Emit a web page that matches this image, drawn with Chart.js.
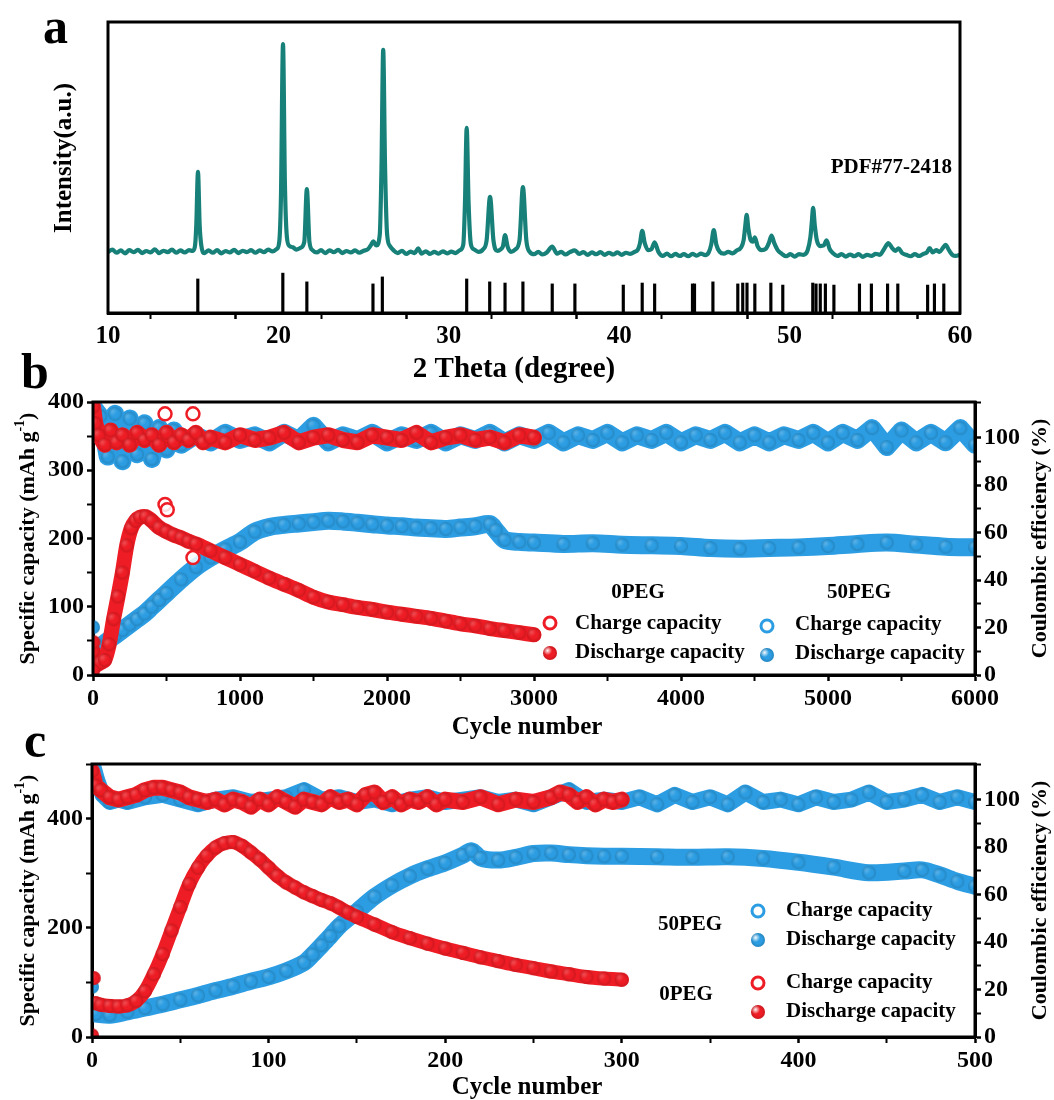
<!DOCTYPE html>
<html>
<head>
<meta charset="utf-8">
<script src="https://cdn.jsdelivr.net/npm/chart.js@4.4.1/dist/chart.umd.min.js"></script>
<style>
  body { margin: 0; background: #fff; }
  #wrap { position: relative; width: 1054px; height: 1100px; overflow: hidden; }
  #wrap canvas { position: absolute; left: 0; }
</style>
</head>
<body>
<div id="wrap">
  <canvas id="xrdChart" width="1054" height="390" style="top:0"></canvas>
  <canvas id="longCycleChart" width="1054" height="400" style="top:340px"></canvas>
  <canvas id="shortCycleChart" width="1054" height="400" style="top:700px"></canvas>
</div>
<script>
// ---------- (a) XRD pattern: [2theta, intensity a.u.] ----------
const xrdPattern = [
  [10.0,21.0],[10.25,21.8],[10.5,20.7],[10.75,21.5],[11.0,20.5],[11.25,21.6],[11.5,20.9],[11.75,21.7],[12.0,20.6],[12.25,21.3],
  [12.5,20.8],[12.75,21.9],[13.0,20.6],[13.25,21.4],[13.5,20.9],[13.75,21.8],[14.0,20.7],[14.25,21.5],[14.5,20.8],[14.75,21.6],[14.95,21.3],
  [15.1,22.8],[15.18,30],[15.28,48.5],[15.38,30],[15.48,23],
  [15.65,20.6],[15.9,21.5],[16.15,20.7],[16.4,21.6],[16.65,20.5],[16.9,21.3],[17.15,20.8],[17.4,21.7],[17.65,20.6],[17.9,21.4],
  [18.15,20.9],[18.4,21.6],[18.65,20.7],[18.9,21.5],[19.15,20.9],[19.4,21.8],[19.65,21.2],[19.9,22.0],
  [20.05,24.5],[20.15,40],[20.27,92.4],[20.38,45],[20.5,26],[20.65,23],[20.85,22.6],[21.05,21.8],[21.3,22.4],
  [21.52,24.5],[21.67,42.6],[21.82,24.5],[22.0,21.6],
  [22.25,20.8],[22.5,21.6],[22.75,20.6],[23.0,21.5],[23.25,20.9],[23.5,21.7],[23.75,20.6],[24.0,21.3],[24.25,20.8],[24.5,21.5],
  [24.75,20.7],[25.0,21.4],[25.25,21.9],
  [25.45,23.5],[25.57,24.6],[25.75,23.2],[25.95,27],[26.05,50],[26.15,90.4],[26.26,50],[26.38,27],[26.55,23],[26.75,21.6],
  [27.0,20.6],[27.25,21.4],[27.5,20.3],[27.75,21.1],[28.0,20.6],[28.2,22.2],[28.4,20.4],[28.65,21.2],[28.9,20.3],[29.15,21.0],
  [29.4,20.4],[29.65,21.2],[29.9,20.5],[30.15,21.1],[30.4,20.6],[30.65,21.6],
  [30.85,23.5],[30.95,38],[31.05,63.6],[31.16,38],[31.3,23.5],[31.5,21.8],[31.75,21.0],[32.0,21.8],
  [32.22,25],[32.42,39.9],[32.62,25],[32.85,21.3],[33.05,21.9],
  [33.18,23],[33.3,26.8],[33.45,22.8],[33.65,21.0],[33.9,21.8],
  [34.15,25],[34.35,43.3],[34.55,25],[34.75,21.0],
  [35.0,20.2],[35.25,21.0],[35.5,20.1],[35.75,20.8],[36.07,22.8],[36.35,20.4],[36.6,21.0],[36.85,20.1],[37.1,20.9],[37.4,21.5],
  [37.65,20.3],[37.9,20.9],[38.15,20.0],[38.4,20.8],[38.65,20.2],[38.9,20.9],[39.15,20.0],[39.4,20.7],[39.65,20.1],[39.9,20.8],
  [40.15,20.0],[40.4,20.7],[40.65,20.3],[40.9,21.0],[41.1,21.8],
  [41.22,24],[41.35,28.2],[41.5,24],[41.7,21.6],[41.9,22.0],[42.08,24.3],[42.3,21.0],
  [42.55,19.6],[42.8,20.4],[43.05,19.5],[43.3,20.3],[43.55,19.6],[43.8,20.2],[44.05,19.5],[44.3,20.3],[44.55,19.7],[44.8,20.4],
  [45.05,19.9],[45.25,20.8],
  [45.4,23.5],[45.55,28.5],[45.7,23.5],[45.9,21.0],[46.15,20.4],[46.4,21.0],[46.65,20.5],[46.9,21.5],[47.15,22.5],[47.3,25],
  [47.4,30],[47.48,33.7],[47.58,29],[47.72,25],[47.85,24.5],[47.96,26],[48.12,23],[48.35,21.6],[48.6,22.0],[48.78,24],
  [48.94,26.6],[49.1,24],[49.3,21.6],[49.55,20.3],[49.8,19.5],[50.05,20.2],[50.3,19.4],[50.55,20.2],[50.8,20.0],[51.05,21.4],
  [51.22,26],[51.3,31],[51.38,36.1],[51.48,30],[51.6,25],[51.8,23],[52.0,23.2],[52.17,25],[52.35,22],[52.55,20.5],
  [52.8,19.6],[53.05,20.2],[53.3,19.4],[53.55,20.1],[53.8,19.5],[54.05,20.2],[54.3,19.3],[54.55,20.0],[54.8,19.6],[55.05,20.3],
  [55.3,20.0],[55.55,22.0],[55.8,24.0],[56.0,22.5],[56.2,21.3],[56.4,22.2],[56.6,20.6],[56.85,20.0],[57.1,19.5],[57.35,20.2],
  [57.6,19.6],[57.85,20.3],[58.05,20.8],[58.22,22.3],[58.4,20.8],[58.6,21.6],[58.8,21.0],[59.0,22.4],[59.15,23.4],[59.35,21.6],
  [59.55,20.0],[59.75,19.6],[60.0,20.0]
];

// PDF#77-2418 reference lines: [2theta, relative height]
const pdfLines = [
  [15.27,11.7],[20.26,13.7],[21.67,10.7],[25.55,10],[26.1,12.4],[31.05,11.7],[32.4,10.7],[33.3,10.3],[34.35,10.7],
  [36.07,10],[37.4,10],[40.24,9.6],[41.35,10.3],[42.08,10],[44.3,10],[44.42,10],[45.5,10.7],[46.96,10],[47.25,10.3],
  [47.5,10.3],[47.96,10],[48.9,10.3],[49.6,9.6],[51.36,10.3],[51.55,10],[51.8,10],[52.1,10],[52.6,9.6],[54.1,10],
  [54.8,10],[55.75,10],[56.35,10],[58.1,9.6],[58.5,10],[59.05,10]
];

// ---------- (b) long cycling: [cycle, value] ----------
const capB0 = [
  [0,35],[20,15],[50,18],[80,22],[110,45],[140,82],[170,115],[200,150],[230,190],[260,215],[290,226],[320,231],[360,232],
  [400,226],[450,216],[500,210],[550,205],[600,201],[650,196],[700,192],[800,182],[900,172],[1000,162],[1100,152],
  [1200,142],[1300,133],[1400,124],[1500,114],[1600,107],[1700,103],[1800,99],[1900,96],[2000,92],[2100,89],[2200,86],
  [2300,83],[2400,79],[2500,75],[2600,72],[2700,68],[2800,65],[2900,62],[3000,59]
];
const capB50 = [
  [10,40],[50,42],[100,50],[150,58],[200,66],[250,74],[300,82],[350,90],[400,100],[450,110],[500,120],[600,140],[700,158],
  [800,172],[900,184],[1000,195],[1100,210],[1200,217],[1300,220],[1400,222],[1500,224],[1600,226],[1700,225],[1800,223],
  [1900,221],[2000,219],[2100,218],[2200,216],[2300,215],[2400,214],[2500,216],[2600,218],[2700,221],[2740,212],[2800,198],
  [2900,195],[3000,194],[3200,192],[3400,193],[3600,191],[3800,190],[4000,189],[4200,186],[4400,185],[4600,186],[4800,187],
  [5000,189],[5200,192],[5400,194],[5600,191],[5800,188],[6000,187]
];
const ceB0 = [
  [0,113],[15,106],[40,101],[80,97],[120,103],[160,98],[200,101],[250,97],[300,102],[350,99],[400,101],[450,97],[500,102],
  [550,98],[600,101],[650,99],[700,102],[750,98],[800,100],[900,98],[1000,101],[1100,99],[1200,100],[1300,102],[1400,98],
  [1500,100],[1600,101],[1700,99],[1800,98],[1900,101],[2000,100],[2100,99],[2200,102],[2300,98],[2400,100],[2500,101],
  [2600,99],[2700,100],[2800,98],[2900,101],[3000,100]
];
const ceB50 = [
  [0,113],[50,109],[100,92],[150,110],[200,90],[250,108],[300,93],[350,106],[400,91],[450,104],[500,95],[550,103],[600,97],
  [700,101],[800,98],[900,102],[1000,99],[1100,101],[1200,98],[1300,102],[1400,99],[1500,105],[1600,98],[1700,101],[1800,99],
  [1900,102],[2000,98],[2100,101],[2200,99],[2300,102],[2400,98],[2500,101],[2600,99],[2700,102],[2800,98],[2900,101],
  [3000,99],[3100,102],[3200,98],[3300,101],[3400,99],[3500,102],[3600,98],[3700,101],[3800,99],[3900,102],[4000,98],
  [4100,101],[4200,99],[4300,102],[4400,98],[4500,101],[4600,98],[4700,101],[4800,99],[4900,102],[5000,98],[5100,102],
  [5200,99],[5300,104],[5400,96],[5500,103],[5600,98],[5700,102],[5800,98],[5900,104],[6000,97]
];
const firstB0 = [[0,6],[3,48]];
const firstB50 = [[0,70]];
const chargeB0 = [[490,250],[505,242],[680,172]];
const chargeCeB0 = [[490,110],[680,110]];

// ---------- (c) rate-limited cycling: [cycle, value] ----------
const capC0 = [
  [2,62],[5,59],[10,57],[15,56],[20,58],[25,66],[30,84],[35,115],[40,152],[45,195],[50,238],[55,280],[60,310],[65,332],
  [70,347],[75,355],[80,357],[85,350],[90,338],[95,325],[100,310],[105,295],[110,283],[115,274],[120,265],[125,258],
  [130,251],[135,245],[140,237],[145,228],[150,220],[160,206],[170,192],[180,181],[190,171],[200,162],[210,154],[220,146],
  [230,139],[240,132],[250,126],[260,120],[270,115],[280,110],[290,107],[300,105]
];
const capC50 = [
  [2,42],[10,40],[20,46],[30,53],[40,60],[50,68],[60,76],[70,85],[80,93],[90,102],[100,110],[110,121],[120,136],[125,151],
  [130,168],[135,185],[140,203],[150,230],[160,257],[170,278],[180,295],[190,308],[200,319],[210,333],[215,341],[220,328],
  [230,324],[240,329],[250,336],[260,337],[270,334],[280,332],[290,331],[300,331],[320,330],[340,329],[360,330],[380,327],
  [400,320],[420,311],[440,301],[460,304],[470,306],[480,297],[490,285],[500,276]
];
const ceC0 = [
  [0,112],[2,106],[5,104],[10,101],[15,100],[20,101],[25,102],[30,104],[35,105],[40,105],[45,104],[50,103],[55,101],[60,100],
  [65,99],[70,100],[75,98],[80,100],[85,99],[90,97],[95,100],[100,98],[105,101],[110,99],[115,97],[120,100],[125,99],[130,98],
  [135,101],[140,99],[145,100],[150,98],[155,102],[160,103],[165,99],[170,101],[175,98],[180,100],[185,99],[190,101],[195,98],
  [200,100],[210,99],[220,101],[230,98],[240,100],[250,99],[260,101],[265,103],[270,102],[275,99],[280,101],[285,98],[290,100],
  [295,99],[300,100]
];
const ceC50 = [
  [0,116],[3,108],[6,102],[10,99],[15,100],[20,99],[30,101],[40,102],[50,100],[60,98],[70,100],[80,101],[90,99],[100,100],
  [110,101],[120,104],[130,100],[140,101],[150,99],[160,100],[170,98],[180,100],[190,101],[200,99],[210,100],[220,101],
  [230,99],[240,100],[250,98],[260,101],[270,104],[280,99],[290,100],[300,99],[310,101],[320,98],[330,102],[340,99],[350,101],
  [360,98],[370,103],[380,99],[390,100],[400,98],[410,101],[420,99],[430,100],[440,103],[450,99],[460,100],[470,102],[480,99],
  [490,101],[500,99]
];
const firstC0 = [[0,3],[1,108]];
const firstC50 = [[0,92]];

// ---------- styling ----------
const RED = '#ee1c24';
const BLUE = '#2c9de2';
const TEAL = '#178079';
const FONT = '"Liberation Serif", "Times New Roman", serif';

const toXY = pairs => pairs.map(([x, y]) => ({ x, y }));

// shaded sphere used as point marker
function makeBall(color, r, glow) {
  const c = document.createElement('canvas');
  const s = Math.ceil(r * 2) + 2;
  c.width = c.height = s;
  const g = c.getContext('2d');
  const m = s / 2;
  g.fillStyle = color;
  g.beginPath(); g.arc(m, m, r, 0, Math.PI * 2); g.fill();
  const hx = m - r * 0.35, hy = m - r * 0.35;
  const hl = g.createRadialGradient(hx, hy, 0, hx, hy, r * 0.65);
  hl.addColorStop(0, `rgba(255,255,255,${glow})`);
  hl.addColorStop(1, 'rgba(255,255,255,0)');
  g.fillStyle = hl;
  g.beginPath(); g.arc(m, m, r, 0, Math.PI * 2); g.fill();
  const sh = g.createRadialGradient(m, m, r * 0.55, m, m, r);
  sh.addColorStop(0, 'rgba(0,0,0,0)');
  sh.addColorStop(1, 'rgba(0,0,0,0.15)');
  g.fillStyle = sh;
  g.beginPath(); g.arc(m, m, r, 0, Math.PI * 2); g.fill();
  return c;
}

const redBall = makeBall(RED, 7, 0.22);
const blueBall = makeBall(BLUE, 7, 0.22);
const redKey = makeBall(RED, 7, 0.95);
const blueKey = makeBall(BLUE, 7, 0.95);

function band(pairs, color, ball, axis, width, tension) {
  return {
    type: 'line', data: toXY(pairs), yAxisID: axis,
    borderColor: color, borderWidth: width, borderCapStyle: 'round', borderJoinStyle: 'round',
    tension: tension, pointStyle: ball, pointRadius: 7, fill: false, clip: 0
  };
}

function dots(pairs, ball, axis) {
  return {
    type: 'line', data: toXY(pairs), yAxisID: axis, showLine: false,
    pointStyle: ball, pointRadius: 7, clip: 0
  };
}

function rings(pairs, color, axis) {
  return {
    type: 'line', data: toXY(pairs), yAxisID: axis, showLine: false,
    pointStyle: 'circle', pointRadius: 6.5, pointBorderWidth: 2.5,
    pointBorderColor: color, pointBackgroundColor: 'rgba(255,255,255,0.85)', clip: 0
  };
}

function drawText(ctx, text, x, y, size, opts = {}) {
  ctx.save();
  ctx.font = `bold ${size}px ${FONT}`;
  ctx.fillStyle = '#000';
  ctx.textAlign = opts.align || 'center';
  ctx.textBaseline = opts.baseline || 'middle';
  ctx.translate(x, y);
  if (opts.rotate) ctx.rotate(opts.rotate);
  ctx.fillText(text, 0, 0);
  ctx.restore();
}

// "Specific capacity (mAh g^-1)" written bottom-to-top
function drawCapacityTitle(ctx, x, y) {
  const parts = [
    ['Specific capacity (mAh g', 22, 0],
    ['-1', 14, -8],
    [')', 22, 0]
  ];
  ctx.save();
  ctx.translate(x, y);
  ctx.rotate(-Math.PI / 2);
  ctx.fillStyle = '#000';
  ctx.textAlign = 'left';
  ctx.textBaseline = 'middle';
  let total = 0;
  parts.forEach(([t, s]) => { ctx.font = `bold ${s}px ${FONT}`; total += ctx.measureText(t).width; });
  let cx = -total / 2;
  parts.forEach(([t, s, dy]) => {
    ctx.font = `bold ${s}px ${FONT}`;
    ctx.fillText(t, cx, dy);
    cx += ctx.measureText(t).width;
  });
  ctx.restore();
}

function drawRing(ctx, color, x, y) {
  ctx.save();
  ctx.beginPath();
  ctx.arc(x, y, 6, 0, Math.PI * 2);
  ctx.lineWidth = 3;
  ctx.strokeStyle = color;
  ctx.stroke();
  ctx.restore();
}

function drawKeyBall(ctx, img, x, y) {
  ctx.drawImage(img, x - img.width / 2, y - img.height / 2);
}

const framePlugin = {
  id: 'frame',
  afterDatasetsDraw(chart) {
    const { ctx, chartArea: a } = chart;
    ctx.save();
    ctx.lineWidth = 3;
    ctx.strokeStyle = '#000';
    ctx.strokeRect(a.left, a.top, a.right - a.left, a.bottom - a.top);
    ctx.restore();
  }
};

const tickFont = size => ({ family: FONT, size: size, weight: 'bold' });

function linearAxis(min, max, step, labelEvery, fontSize, extra) {
  return Object.assign({
    type: 'linear', min: min, max: max,
    grid: {
      drawOnChartArea: false, tickLength: 6, tickColor: '#000',
      tickWidth: c => (c.tick && c.tick.value % labelEvery === 0 ? 2.5 : 2)
    },
    border: { width: 3, color: '#000' },
    ticks: {
      stepSize: step, autoSkip: false, maxRotation: 0, color: '#000', font: tickFont(fontSize),
      callback: v => (v % labelEvery === 0 ? v : '')
    }
  }, extra);
}

const baseOptions = {
  responsive: false,
  animation: false,
  events: [],
  plugins: { legend: { display: false }, tooltip: { enabled: false } }
};

// ---------- (a) ----------
new Chart(document.getElementById('xrdChart'), {
  type: 'line',
  data: {
    datasets: [
      {
        type: 'line', data: toXY(xrdPattern), borderColor: TEAL, borderWidth: 4.2,
        borderJoinStyle: 'round', pointRadius: 0, cubicInterpolationMode: 'monotone', order: 0
      },
      {
        type: 'bar', data: toXY(pdfLines), backgroundColor: '#000', barThickness: 2.5, order: 1
      }
    ]
  },
  options: Object.assign({}, baseOptions, {
    layout: { padding: { left: 108, right: 94, top: 22, bottom: 0 }, autoPadding: false },
    scales: {
      x: linearAxis(10, 60, 5, 10, 25, { offset: false, afterFit: s => { s.height = 77; } }),
      y: { type: 'linear', min: 0, max: 100, display: false }
    }
  }),
  plugins: [framePlugin, {
    id: 'xrdLabels',
    afterDraw(chart) {
      const ctx = chart.ctx;
      drawText(ctx, 'a', 43, 43, 50, { align: 'left', baseline: 'alphabetic' });
      drawText(ctx, 'Intensity(a.u.)', 65, 158, 25, { rotate: -Math.PI / 2 });
      drawText(ctx, '2 Theta (degree)', 514, 370, 29);
      drawText(ctx, 'PDF#77-2418', 952, 168, 21, { align: 'right' });
    }
  }]
});

// ---------- (b) ----------
new Chart(document.getElementById('longCycleChart'), {
  type: 'line',
  data: {
    datasets: [
      rings(chargeB0, RED, 'y'),
      rings(chargeCeB0, RED, 'y1'),
      dots(firstB0, redBall, 'y'),
      band(ceB0, RED, redBall, 'y1', 16, 0),
      band(capB0, RED, redBall, 'y', 15, 0.3),
      dots(firstB50, blueBall, 'y'),
      band(ceB50, BLUE, blueBall, 'y1', 18, 0),
      band(capB50, BLUE, blueBall, 'y', 18, 0.3)
    ]
  },
  options: Object.assign({}, baseOptions, {
    layout: { padding: { left: 0, right: 0, top: 62, bottom: 0 }, autoPadding: false },
    scales: {
      x: linearAxis(0, 6000, 500, 1000, 24, { afterFit: s => { s.height = 65; } }),
      y: linearAxis(0, 400, 50, 100, 24, { position: 'left', afterFit: s => { s.width = 93; } }),
      y1: linearAxis(0, 115, 10, 20, 24, { position: 'right', afterFit: s => { s.width = 79; } })
    }
  }),
  plugins: [framePlugin, {
    id: 'longCycleLabels',
    afterDraw(chart) {
      const ctx = chart.ctx;
      const a = chart.chartArea;
      const midY = (a.top + a.bottom) / 2;
      drawText(ctx, 'b', 21, 48, 50, { align: 'left', baseline: 'alphabetic' });
      drawCapacityTitle(ctx, 28, midY);
      drawText(ctx, 'Coulombic efficiency (%)', 1040, midY, 22, { rotate: -Math.PI / 2 });
      drawText(ctx, 'Cycle number', 527, 388, 25);

      drawText(ctx, '0PEG', 638, 253, 21);
      drawRing(ctx, RED, 550, 283);
      drawKeyBall(ctx, redKey, 550, 313);
      drawText(ctx, 'Charge capacity', 575, 284, 21, { align: 'left' });
      drawText(ctx, 'Discharge capacity', 575, 313, 21, { align: 'left' });

      drawText(ctx, '50PEG', 859, 253, 21);
      drawRing(ctx, BLUE, 767, 286);
      drawKeyBall(ctx, blueKey, 767, 315);
      drawText(ctx, 'Charge capacity', 795, 285, 21, { align: 'left' });
      drawText(ctx, 'Discharge capacity', 795, 314, 21, { align: 'left' });
    }
  }]
});

// ---------- (c) ----------
new Chart(document.getElementById('shortCycleChart'), {
  type: 'line',
  data: {
    datasets: [
      dots(firstC0, redBall, 'y'),
      band(ceC0, RED, redBall, 'y1', 16, 0),
      band(capC0, RED, redBall, 'y', 14, 0.3),
      dots(firstC50, blueBall, 'y'),
      band(ceC50, BLUE, blueBall, 'y1', 16, 0),
      band(capC50, BLUE, blueBall, 'y', 17, 0.3)
    ]
  },
  options: Object.assign({}, baseOptions, {
    layout: { padding: { left: 0, right: 0, top: 64, bottom: 0 }, autoPadding: false },
    scales: {
      x: linearAxis(0, 500, 50, 100, 24, { afterFit: s => { s.height = 63; } }),
      y: linearAxis(0, 500, 100, 200, 24, { position: 'left', afterFit: s => { s.width = 92; } }),
      y1: linearAxis(0, 115, 10, 20, 24, { position: 'right', afterFit: s => { s.width = 79; } })
    }
  }),
  plugins: [framePlugin, {
    id: 'shortCycleLabels',
    afterDraw(chart) {
      const ctx = chart.ctx;
      const a = chart.chartArea;
      const midY = (a.top + a.bottom) / 2;
      drawText(ctx, 'c', 24, 57, 50, { align: 'left', baseline: 'alphabetic' });
      drawCapacityTitle(ctx, 28, midY);
      drawText(ctx, 'Coulombic efficiency (%)', 1040, midY, 22, { rotate: -Math.PI / 2 });
      drawText(ctx, 'Cycle number', 527, 388, 25);

      drawText(ctx, '50PEG', 690, 225, 21);
      drawRing(ctx, BLUE, 758, 211);
      drawKeyBall(ctx, blueKey, 758, 240);
      drawText(ctx, 'Charge capacity', 786, 211, 21, { align: 'left' });
      drawText(ctx, 'Discharge capacity', 786, 240, 21, { align: 'left' });

      drawText(ctx, '0PEG', 686, 295, 21);
      drawRing(ctx, RED, 758, 283);
      drawKeyBall(ctx, redKey, 758, 312);
      drawText(ctx, 'Charge capacity', 786, 283, 21, { align: 'left' });
      drawText(ctx, 'Discharge capacity', 786, 312, 21, { align: 'left' });
    }
  }]
});
</script>
</body>
</html>
